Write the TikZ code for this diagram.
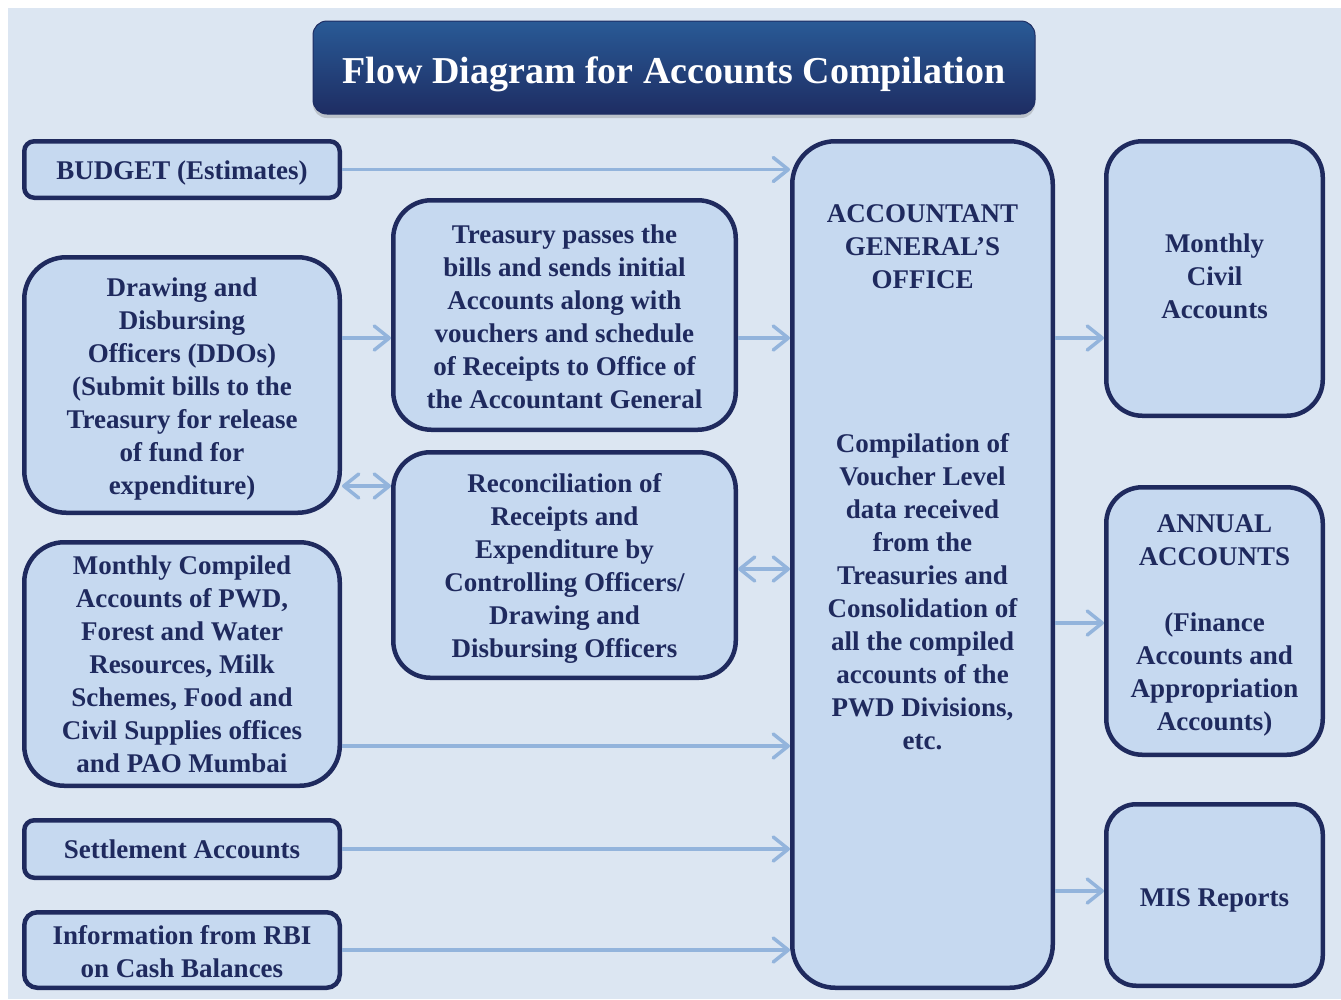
\documentclass[tikz,border=0pt]{standalone}
\usepackage{fontspec}
\setmainfont{Liberation Serif}
\usetikzlibrary{arrows.meta,shadows}

\definecolor{navy}{HTML}{1F2A5E}
\definecolor{boxfill}{HTML}{C6D9F0}
\definecolor{canvas}{HTML}{DCE6F2}
\definecolor{flow}{HTML}{93B4DC}
\definecolor{titletop}{HTML}{295A96}
\definecolor{titlemid}{HTML}{214A85}
\definecolor{titlebot}{HTML}{1E2D63}

% invisible struts that push a node's text down (top) or up (bottom)
\newcommand\padtop[1]{\rule{0pt}{#1}}
\newcommand\padbot[1]{\rule[-#1]{0pt}{#1}}

\begin{document}
\begin{tikzpicture}[x=1pt,y=-1pt,
  box/.style={draw=navy, line width=4.5pt, fill=boxfill, text=navy, align=center,
    inner sep=0pt, font=\bfseries\fontsize{27}{33}\selectfont},
  boxtext/.style={text=navy, align=center, inner sep=0pt,
    font=\bfseries\fontsize{27}{33}\selectfont},
  titlebox/.style={rounded corners=14pt, top color=titletop, middle color=titlemid,
    bottom color=titlebot, draw=titlebot, line width=1pt, text=white,
    font=\bfseries\fontsize{38}{44}\selectfont, inner sep=0pt,
    drop shadow={shadow xshift=0pt, shadow yshift=-4pt, opacity=0.35}},
  barb/.tip={Straight Barb[length=15pt,width=24pt,line cap=round,line join=round]},
  flowline/.style={draw=flow, line width=3.5pt, -barb},
  flowboth/.style={draw=flow, line width=3.5pt, barb-barb}
]
\useasboundingbox (0,0) rectangle (1341,999);
\fill[white] (0,0) rectangle (1341,999);
\fill[canvas] (8,8) rectangle (1341,999);

% heading
\node[titlebox, minimum width=722pt, minimum height=93pt] (title) at (674,67.5)
  {\padtop{40pt}Flow Diagram for Accounts Compilation};

% left column
\node[box, minimum width=315.5pt, minimum height=56.5pt, rounded corners=10pt] (budget)
  at (182,169.5) {\padtop{26pt}BUDGET (Estimates)};
\node[box, minimum width=315.5pt, minimum height=255.5pt, rounded corners=42pt] (ddo)
  at (182,385) {\padtop{26pt}Drawing and\\Disbursing\\Officers (DDOs)\\(Submit bills to the\\Treasury for release\\of fund for\\expenditure)};
\node[box, minimum width=315.5pt, minimum height=243.5pt, rounded corners=40pt] (mca)
  at (182,664) {\padtop{20pt}Monthly Compiled\\Accounts of PWD,\\Forest and Water\\Resources, Milk\\Schemes, Food and\\Civil Supplies offices\\and PAO Mumbai};
\node[box, minimum width=315.5pt, minimum height=57.5pt, rounded corners=10pt] (settle)
  at (182,849) {\padtop{20pt}Settlement Accounts};
\node[box, minimum width=315.5pt, minimum height=75.5pt, rounded corners=13pt] (rbi)
  at (182,950) {\padtop{22pt}Information from RBI\\on Cash Balances};

% middle column
\node[box, minimum width=342.5pt, minimum height=229.5pt, rounded corners=38pt] (treas)
  at (564.5,315) {\padtop{22pt}Treasury passes the\\bills and sends initial\\Accounts along with\\vouchers and schedule\\of Receipts to Office of\\the Accountant General};
\node[box, minimum width=342.5pt, minimum height=225.5pt, rounded corners=37pt] (recon)
  at (564.5,565) {\padtop{26pt}Reconciliation of\\Receipts and\\Expenditure by\\Controlling Officers/\\Drawing and\\Disbursing Officers};

% Accountant General's office
\node[box, minimum width=260.5pt, minimum height=846.5pt, rounded corners=43pt] (ag)
  at (922.5,564.5) {};
\node[boxtext, anchor=north] (agtext) at ([yshift=-65pt]ag.north)
  {ACCOUNTANT\\GENERAL’S\\OFFICE\\[131pt]Compilation of\\Voucher Level\\data received\\from the\\Treasuries and\\Consolidation of\\all the compiled\\accounts of the\\PWD Divisions,\\etc.};

% outputs
\node[box, minimum width=216.5pt, minimum height=274.5pt, rounded corners=36pt] (civil)
  at (1214.5,278.5) {Monthly\\Civil\\Accounts\padbot{5pt}};
\node[box, minimum width=216.5pt, minimum height=267.5pt, rounded corners=36pt] (annual)
  at (1214.5,621) {\padtop{26pt}ANNUAL\\ACCOUNTS\\[33pt](Finance\\Accounts and\\Appropriation\\Accounts)};
\node[box, minimum width=216.5pt, minimum height=181.5pt, rounded corners=30pt] (mis)
  at (1214.5,895) {\padtop{28pt}MIS Reports};

% connector end points
\coordinate (ddoA) at ([yshift=47pt]ddo.east);
\coordinate (treasA) at ([yshift=-23pt]treas.east);
\coordinate (ddoB) at ([yshift=-101pt]ddo.east);
\coordinate (reconA) at ([yshift=-4pt]recon.east);
\coordinate (mcaA) at ([yshift=-82pt]mca.east);
\coordinate (agA) at ([yshift=226.5pt]ag.east);
\coordinate (agB) at ([yshift=-58.5pt]ag.east);
\coordinate (agC) at ([yshift=-326.5pt]ag.east);

% connectors
\draw[flowline] (budget.east) -- (budget.east -| ag.west);
\draw[flowline] (ddoA) -- (ddoA -| treas.west);
\draw[flowline] (treasA) -- (treasA -| ag.west);
\draw[flowboth] (ddoB) -- (ddoB -| recon.west);
\draw[flowboth] (reconA) -- (reconA -| ag.west);
\draw[flowline] (mcaA) -- (mcaA -| ag.west);
\draw[flowline] (settle.east) -- (settle.east -| ag.west);
\draw[flowline] (rbi.east) -- (rbi.east -| ag.west);
\draw[flowline] (agA) -- (agA -| civil.west);
\draw[flowline] (agB) -- (agB -| annual.west);
\draw[flowline] (agC) -- (agC -| mis.west);
\end{tikzpicture}
\end{document}
